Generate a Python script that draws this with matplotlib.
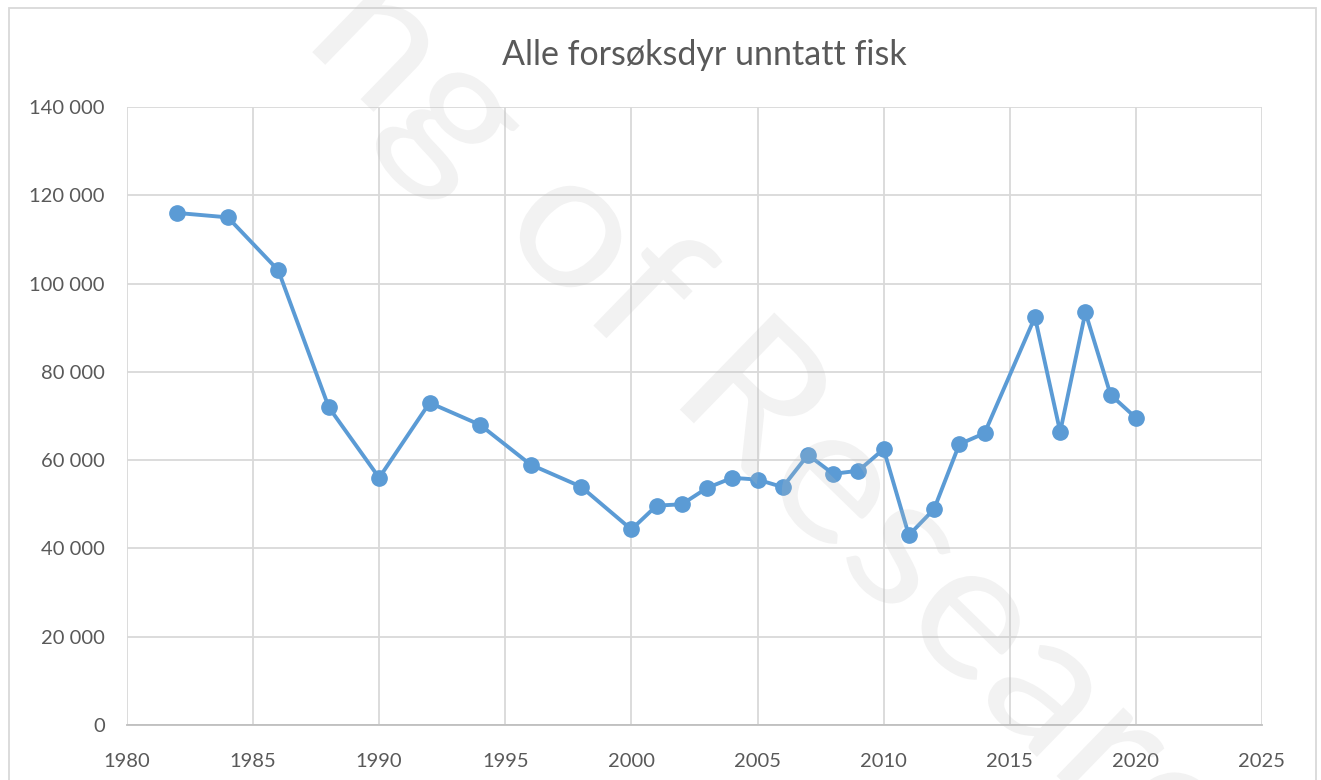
import matplotlib
matplotlib.use("Agg")

import matplotlib.pyplot as plt
import matplotlib.ticker as ticker
from matplotlib.font_manager import FontProperties
from matplotlib.patches import PathPatch
from matplotlib.textpath import TextPath, TextToPath
from matplotlib.transforms import Affine2D

# data
years = [1982, 1984, 1986, 1988, 1990, 1992, 1994, 1996, 1998, 2000,
         2001, 2002, 2003, 2004, 2005, 2006, 2007, 2008, 2009, 2010,
         2011, 2012, 2013, 2014, 2016, 2017, 2018, 2019, 2020]
animals = [116000, 115000, 103000, 72000, 56000, 73000, 68000, 59000, 54000, 44300,
           49700, 50000, 53700, 56000, 55600, 53900, 61200, 56900, 57600, 62500,
           43000, 48900, 63600, 66100, 92400, 66400, 93500, 74800, 69600]

title = "Alle forsøksdyr unntatt fisk"
watermark = "ng of Research"
x_ticks = list(range(1980, 2030, 5))
y_ticks = list(range(0, 160000, 20000))

plt.rcParams["font.family"] = ["Lato", "DejaVu Sans"]

W, H = 1321, 780
fig = plt.figure(figsize=(W / 100, H / 100), dpi=100)
ax = fig.add_axes([0.0961, 0.0705, 0.8592, 0.7923])

ax.plot(years, animals, color="#5B9BD5", lw=2.8, marker="o", ms=11,
        solid_joinstyle="round", zorder=3)

ax.set_xlim(1980, 2025)
ax.set_ylim(0, 140000)
ax.set_xticks(x_ticks)
ax.set_yticks(y_ticks)
ax.yaxis.set_major_formatter(ticker.FuncFormatter(lambda v, p: f"{int(v):,}".replace(",", " ")))
ax.grid(True, color="#d9d9d9", lw=1.3)
ax.set_axisbelow(True)
for s in ["top", "right", "left"]:
    ax.spines[s].set_visible(False)
ax.spines["bottom"].set_color("#bfbfbf")
ax.spines["bottom"].set_linewidth(1.3)
ax.tick_params(length=0, labelsize=14.5, labelcolor="#595959")
ax.tick_params(axis="y", pad=16)
ax.tick_params(axis="x", pad=20)

ax.set_title(title, fontsize=24.5, color="#595959", pad=30, x=0.509)

# faint diagonal watermark laid over the chart, spaced like the source
wm_size = 189
wm_prop = FontProperties(family="Lato", size=wm_size)
wm_path = TextPath((0, 0), watermark, size=wm_size, prop=wm_prop)
ttp = TextToPath()
adv = lambda s: ttp.get_text_width_height_descent(s, wm_prop, ismath=False)[0]
x_g = adv("n") + adv("g") / 2
x_a = adv("ng of Rese") + adv("a") / 2
kx = 822 / (x_a - x_g)
wm_base = Affine2D().scale(kx, 1.0).rotate_deg(-44.2)
mx, my = wm_base.transform(((x_g + x_a) / 2, 0.25 * wm_size))
wm_tr = wm_base + Affine2D().translate(748.5 - mx, (H - 410.5) - my)
fig.patches.append(PathPatch(wm_path, transform=wm_tr, fc="#bfbfbf", ec="none",
                             alpha=0.2, zorder=5))

# outer chart border
fig.patches.append(plt.Rectangle((0.007, -0.01), 0.989, 1.0, transform=fig.transFigure,
                                 fill=False, ec="#d9d9d9", lw=1.3))

plt.savefig("out.png", dpi=100)
plt.close(fig)
